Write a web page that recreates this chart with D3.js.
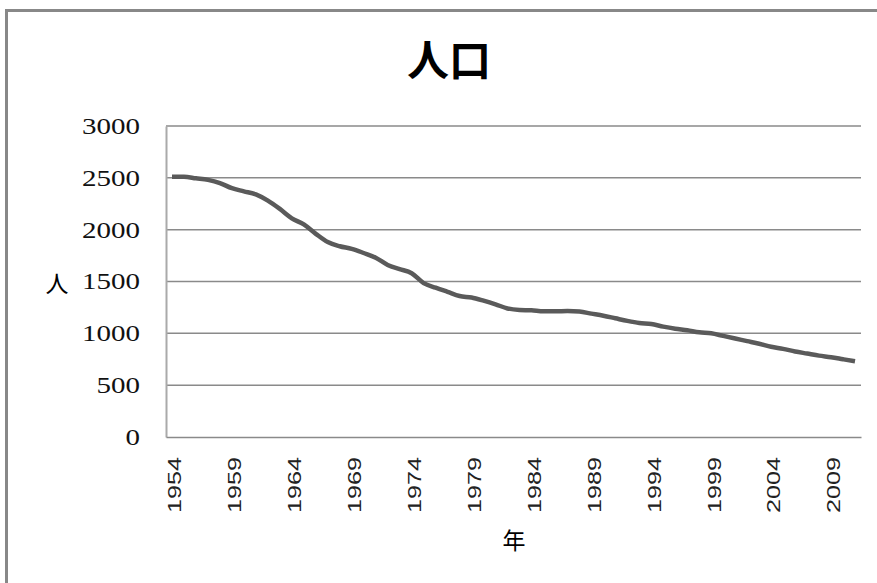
<!DOCTYPE html>
<html><head><meta charset="utf-8">
<script src="https://cdn.jsdelivr.net/npm/d3@7"></script>
<style>html,body{margin:0;padding:0;background:#fff;}svg{display:block;}</style>
</head><body>
<svg id="chart" width="877" height="583"></svg>
<script>
const title = "人口";
const yTitle = "人";
const xTitle = "年";
const years = d3.range(1954, 2012);
const population = [2510,2510,2495,2480,2450,2400,2370,2340,2280,2200,2110,2050,1960,1880,1840,1815,1775,1730,1660,1620,1580,1485,1440,1400,1360,1345,1315,1280,1240,1225,1222,1212,1212,1215,1210,1190,1170,1145,1120,1100,1090,1065,1045,1030,1010,1000,975,950,925,900,870,850,825,805,785,770,750,730];
const yTicks = [0,500,1000,1500,2000,2500,3000];
const xTickLabels = [1954,1959,1964,1969,1974,1979,1984,1989,1994,1999,2004,2009];

const svg = d3.select("#chart");
svg.append("rect").attr("x",6.5).attr("y",10.5).attr("width",900).attr("height",600)
  .attr("fill","#fff").attr("stroke","#888").attr("stroke-width",3);

const pLeft=166, pRight=861, pTop=126, pBottom=437;
const x = d3.scaleBand().domain(years).range([pLeft,pRight]);
const y = d3.scaleLinear().domain([0,3000]).range([pBottom,pTop]);

// gridlines
svg.append("g").selectAll("line").data(yTicks.filter(d=>d>0)).join("line")
  .attr("x1",pLeft).attr("x2",pRight).attr("y1",d=>y(d)).attr("y2",d=>y(d))
  .attr("stroke","#8a8a8a").attr("stroke-width",1.5);

// y axis
const yAxis = svg.append("g").attr("transform",`translate(${pLeft},0)`)
  .call(d3.axisLeft(y).tickValues(yTicks).tickFormat(d3.format("d")).tickSize(0).tickPadding(26));
yAxis.select(".domain").attr("stroke","#aaa").attr("stroke-width",2);
yAxis.selectAll("text").attr("font-family","'Liberation Serif','DejaVu Serif',serif")
  .attr("font-size",23).attr("fill","#111")
  .attr("textLength",d=>String(d).length*14.5).attr("lengthAdjust","spacingAndGlyphs");

// x axis
const xAxis = svg.append("g").attr("transform",`translate(0,${pBottom})`)
  .call(d3.axisBottom(x).tickValues(xTickLabels).tickSize(0).tickPadding(0));
xAxis.select(".domain").attr("stroke","#8a8a8a").attr("stroke-width",1.5);
xAxis.selectAll("text")
  .attr("font-family","'Liberation Sans',Arial,sans-serif").attr("font-size",18).attr("fill","#222")
  .attr("transform","rotate(-90)").attr("text-anchor","end")
  .attr("x",-20).attr("y",3).attr("dy","0.35em")
  .attr("textLength",56).attr("lengthAdjust","spacingAndGlyphs");

// line
const line = d3.line().x((d,i)=>x(years[i])+x.bandwidth()/2).y(d=>y(d)).curve(d3.curveMonotoneX);
svg.append("path").datum(population).attr("d",line).attr("fill","none")
  .attr("stroke","#5a5a5a").attr("stroke-width",4.5).attr("stroke-linejoin","round");

// titles
svg.append("text").attr("x",449).attr("y",76).attr("text-anchor","middle")
  .attr("font-family","'Noto Sans CJK JP',sans-serif").attr("font-weight",600).attr("font-size",42)
  .attr("fill","#000").text(title);
svg.append("text").attr("x",57).attr("y",292).attr("text-anchor","middle")
  .attr("font-family","'Noto Sans CJK JP',sans-serif").attr("font-size",23)
  .attr("fill","#000").text(yTitle);
svg.append("text").attr("x",514).attr("y",549).attr("text-anchor","middle")
  .attr("font-family","'Noto Sans CJK JP',sans-serif").attr("font-size",23)
  .attr("fill","#000").text(xTitle);
</script>
</body></html>
